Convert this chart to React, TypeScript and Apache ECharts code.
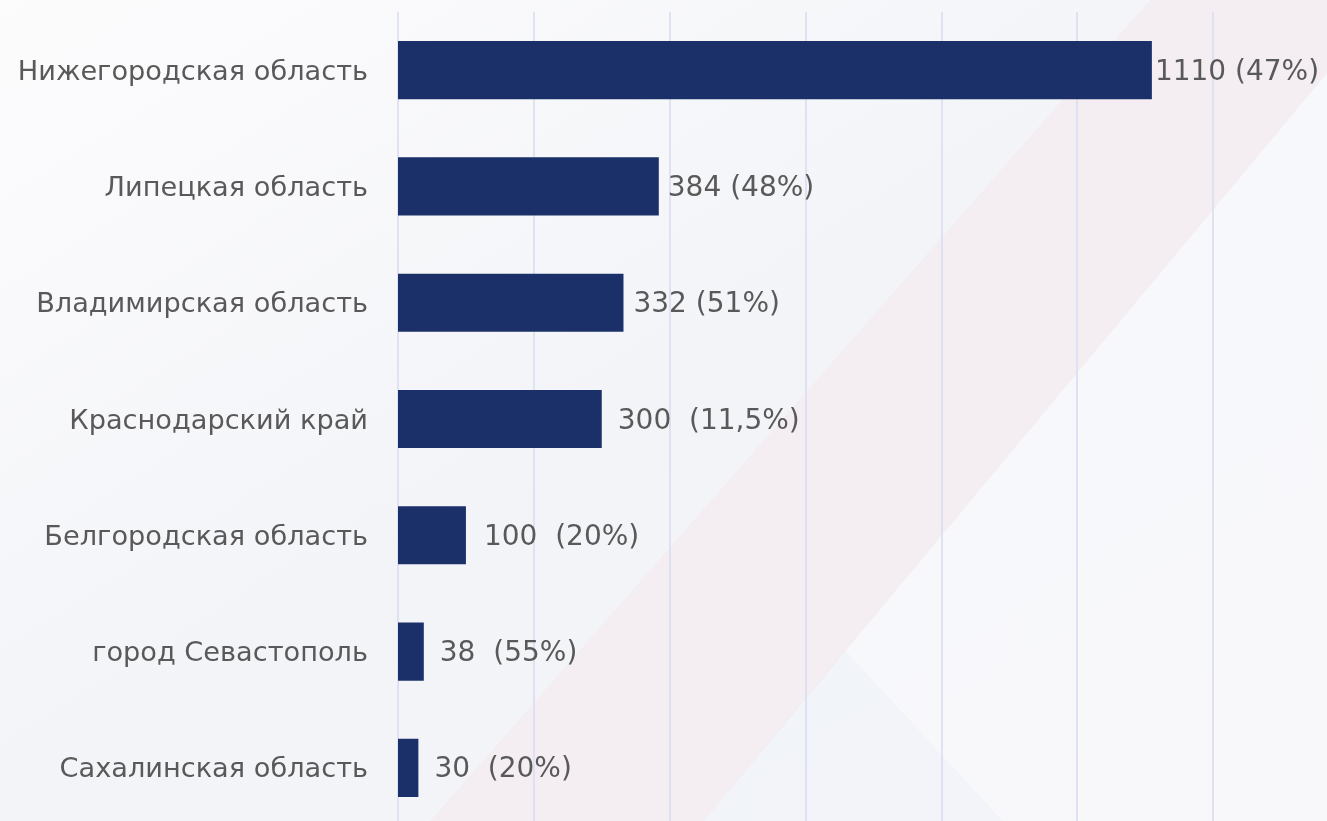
import { useEffect, useRef } from "react";
import * as echarts from "echarts";

// ---- data ----
const categories = [
  "Нижегородская область",
  "Липецкая область",
  "Владимирская область",
  "Краснодарский край",
  "Белгородская область",
  "город Севастополь",
  "Сахалинская область",
];
const values = [1110, 384, 332, 300, 100, 38, 30];
const valueLabels = [
  "1110 (47%)",
  "384 (48%)",
  "332 (51%)",
  "300  (11,5%)",
  "100  (20%)",
  "38  (55%)",
  "30  (20%)",
];
const axisMin = 0;
const axisMax = 1200;
const axisInterval = 200;

// ---- style (label gaps per bar, in px) ----
const labelGaps = [3, 9, 10, 16, 18, 16, 16];

const FONT = "DejaVu Sans";

export default function App() {
  const ref = useRef<HTMLDivElement>(null);

  useEffect(() => {
    if (!ref.current) return;
    const chart = echarts.init(ref.current, undefined, { renderer: "svg" });
    const option = {
      animation: false,
      backgroundColor: "transparent",
      graphic: [
        {
          type: "rect",
          z: -10,
          shape: { x: 0, y: 0, width: 1327, height: 827 },
          style: {
            fill: new echarts.graphic.LinearGradient(0, 0, 1, 1, [
              { offset: 0, color: "#FCFCFD" },
              { offset: 0.5, color: "#F3F4F8" },
              { offset: 1, color: "#F4F5F8" },
            ]),
          },
          silent: true,
        },
        {
          type: "polygon",
          z: -9,
          shape: { points: [[1150, 0], [1388, 0], [699, 827], [425, 827]] },
          style: { fill: "rgba(246,228,232,0.4)" },
          silent: true,
        },
        {
          type: "polygon",
          z: -9,
          shape: { points: [[1327, 73], [1327, 827], [699, 827]] },
          style: { fill: "rgba(252,252,254,0.45)" },
          silent: true,
        },
        {
          type: "polygon",
          z: -8,
          shape: { points: [[845, 650], [699, 827], [1008, 827]] },
          style: { fill: "rgba(228,232,246,0.28)" },
          silent: true,
        },
      ],
      grid: { left: 398, right: 114, top: 12, bottom: 1, containLabel: false },
      xAxis: {
        type: "value",
        min: axisMin,
        max: axisMax,
        interval: axisInterval,
        axisLabel: { show: false },
        axisLine: { show: false },
        axisTick: { show: false },
        splitLine: { show: true, lineStyle: { color: "#D9DBF0", width: 1.5 } },
      },
      yAxis: {
        type: "category",
        inverse: true,
        data: categories,
        axisLine: { show: false },
        axisTick: { show: false },
        axisLabel: {
          margin: 30,
          fontSize: 27.2,
          fontFamily: FONT,
          color: "#595959",
        },
      },
      series: [
        {
          type: "bar",
          barWidth: "50%",
          data: values.map((v, i) => ({
            value: v,
            label: { distance: labelGaps[i] },
          })),
          itemStyle: { color: "#1B3068" },
          label: {
            show: true,
            position: "right",
            fontSize: 28,
            fontFamily: FONT,
            color: "#595959",
            formatter: (p: any) => valueLabels[p.dataIndex],
          },
        },
      ],
    };
    chart.setOption(option as any);
    return () => chart.dispose();
  }, []);

  return (
    <div
      ref={ref}
      style={{ position: "fixed", left: 0, top: 0, width: 1327, height: 827 }}
    />
  );
}
